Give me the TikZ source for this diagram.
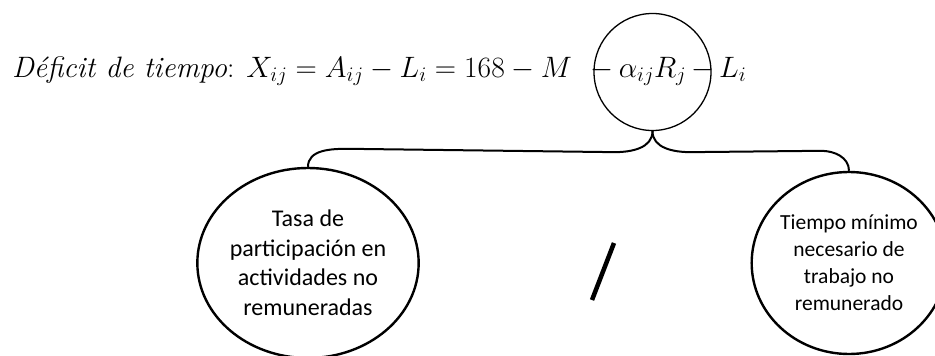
\RequirePackage{fix-cm}
\documentclass[tikz,border=0pt]{standalone}
\usepackage{fontspec}
\newfontfamily\carlito{Carlito}
\usetikzlibrary{shapes.geometric}
\usetikzlibrary{calc}
\newcommand{\eqsize}[0]{\fontsize{29.5}{35}\selectfont}
\tikzset{
term/.style={
  circle,
  draw=black,
  line width=1.3pt,
  minimum size=117pt,
  inner sep=0pt
  }
}
\tikzset{
factor/.style={
  ellipse,
  draw=black,
  line width=2.4pt,
  align=center,
  inner sep=0pt
  }
}
\tikzstyle{brace} = [draw,line width=2pt]
\begin{document}
\begin{tikzpicture}[x=1pt, y=1pt]
	\useasboundingbox (0,0) rectangle (935,-356);

	%equation
	\node (eq) at (12,-77) [anchor=base west, inner sep=0pt, font=\eqsize] {\textit{D\'eficit de tiempo}: $X_{ij} = A_{ij} - L_i = 168 - M$};
	\node (ar) at (652.5,-72) [term] {};
	\node (arterm) at (652.5,-77) [anchor=base, inner sep=0pt, font=\eqsize] {$-\,\alpha_{ij}R_j\,-$};
	\node (li) at (719,-77) [anchor=base west, inner sep=0pt, font=\eqsize] {$L_i$};

	%vertices
	\node (tasa) at (308,-263) [factor, minimum width=186pt, minimum height=190pt, font=\carlito\fontsize{24}{29.5}\selectfont] {Tasa de\\participación en\\actividades no\\remuneradas};
	\node (tiempo) at (849,-263) [factor, minimum width=172pt, minimum height=182pt, font=\carlito\fontsize{21.5}{27}\selectfont] {Tiempo mínimo\\necesario de\\trabajo no\\remunerado};

	%edges
	\draw[brace] (tasa.north) to[out=90,in=180] ($(tasa.north)+(40,18)$) -- ($(ar.south)+(-38,-21)$) to[out=0,in=270] (ar.south);
	\draw[brace] (ar.south) to[out=270,in=180] ($(ar.south)+(38,-21)$) -- ($(tiempo.north)+(-28,20)$) to[out=0,in=90] (tiempo.north);

	%slash
	\draw[line width=4.5pt] (592,-300) -- (614,-243);
\end{tikzpicture}
\end{document}
